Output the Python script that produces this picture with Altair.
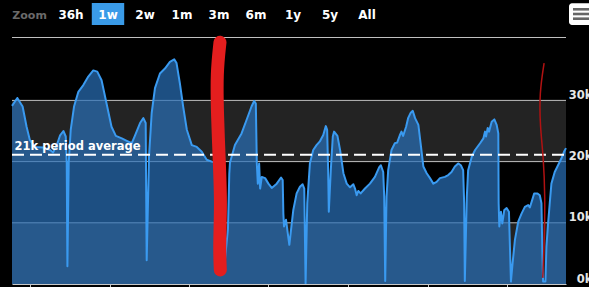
import altair as alt
import pandas as pd

# ---- series (hours from left edge, value in thousands) ----
hours = [0, 1.6, 3.2, 4.4, 5.4, 6.9, 9.4, 11.5, 12.4, 13.5, 14.5, 15.5, 16.2, 16.5, 16.7, 17.1,
         17.7, 18.7, 20.0, 21.5, 23.0, 24.5, 25.7, 27.0, 28.5, 30.0, 31.3, 33.1, 34.6, 36.1,
         37.1, 38.6, 39.6, 40.3, 40.6, 41.3, 42.1, 43.1, 44.6, 46.1, 47.6, 48.9, 49.6, 50.6,
         51.6, 52.7, 54.2, 55.7, 57.2, 58.7, 60.2, 61.4, 62.3, 63.3, 64.2, 65.1, 65.5, 65.7,
         67.2, 69.2, 70.7, 72.2, 73.0, 73.5, 73.8, 74.1, 74.5, 74.8, 75.3, 76.3, 77.3, 78.3,
         79.8, 81.1, 81.6, 81.8, 82.0, 82.6, 83.0, 83.6, 84.0, 84.8, 85.8, 86.8, 87.6, 88.1,
         88.5, 89.0, 89.8, 90.8, 91.8, 92.8, 93.3, 93.8, 94.6, 95.0, 95.3, 95.5, 96.1, 96.7,
         97.1, 98.1, 98.9, 99.9, 100.9, 101.9, 102.9, 103.4, 103.9, 104.4, 105.1, 106.4,
         107.9, 109.4, 110.7, 111.2, 111.9, 112.2, 112.5, 112.9, 113.4, 114.4, 115.4, 116.1,
         116.9, 117.4, 117.9, 118.8, 119.4, 120.2, 120.8, 121.5, 122.5, 123.3, 124.0, 125.0,
         126.0, 127.0, 128.0, 129.0, 130.5, 131.5, 132.5, 133.5, 134.5, 135.3, 136.0, 136.3,
         136.5, 137.1, 137.5, 138.6, 139.6, 141.1, 142.1, 142.6, 142.9, 143.4, 143.8, 144.6,
         145.4, 146.1, 146.6, 146.7, 146.9, 147.4, 147.8, 148.4, 149.1, 149.8, 150.1, 150.4,
         150.9, 151.6, 152.6, 153.6, 154.6, 155.6, 156.1, 156.8, 157.4, 158.4, 159.1, 159.6,
         159.9, 160.1, 160.8, 161.1, 161.6, 162.1, 162.6, 163.6, 164.6, 165.6, 166.4, 167.0]
values = [29.1, 30.4, 29.0, 25.7, 23.5, 22.4, 22.3, 21.9, 21.5, 22.7, 24.3, 25.0, 24.1, 19.8, 2.9, 19.8,
          25.2, 29.0, 31.4, 32.5, 33.9, 34.9, 34.7, 33.3, 29.5, 25.7, 24.2, 23.8, 23.4, 23.0,
          24.3, 26.3, 27.1, 26.3, 3.9, 20.8, 27.9, 32.0, 34.4, 35.2, 36.3, 36.7, 36.1, 32.8,
          29.0, 25.2, 22.7, 22.4, 21.6, 20.3, 20.0, 19.8, 14.0, 6.0, 4.0, 9.0, 18.0, 19.8,
          22.7, 24.6, 26.8, 29.0, 29.9, 29.5, 19.7, 16.4, 19.7, 15.6, 17.5, 17.3, 16.4, 15.7,
          16.4, 17.4, 17.0, 11.5, 9.4, 10.5, 8.8, 6.4, 8.3, 12.1, 14.8, 15.9, 16.3, 15.6,
          0.1, 13.2, 19.7, 21.9, 22.7, 23.3, 23.8, 24.3, 25.8, 25.2, 18.6, 11.8, 18.6, 24.1,
          24.9, 24.2, 21.9, 18.1, 16.4, 15.8, 16.3, 15.6, 14.5, 15.2, 14.8, 15.6,
          16.4, 17.5, 19.1, 19.4, 18.3, 14.3, 0.5, 14.3, 18.6, 21.9, 23.0, 23.1,
          24.3, 24.9, 24.2, 25.7, 27.1, 28.0, 28.3, 27.1, 26.0, 22.4, 19.2, 18.1,
          17.3, 16.4, 16.7, 17.3, 17.5, 17.8, 18.3, 19.2, 19.7, 19.4, 18.6, 13.2,
          0.5, 14.3, 18.6, 20.8, 21.9, 23.0, 23.8, 24.9, 24.1, 25.5, 24.9, 26.5,
          26.9, 26.0, 24.6, 13.2, 9.4, 11.8, 9.9, 12.1, 12.4, 11.8, 6.1, 0.4,
          3.4, 7.2, 10.2, 11.5, 12.6, 12.9, 12.5, 13.7, 14.8, 14.8, 14.5, 13.2,
          4.5, 0.4, 0.4, 6.1, 9.9, 13.2, 16.4, 18.3, 19.4, 20.5, 21.6, 22.2]

avg_value = 21.1
avg_label = "21k period average"
band_lo = [0, 20]
band_hi = [10, 30]
grid_values = [10, 20, 30]
y_label_values = [0, 10, 20, 30]
tick_hours = [5.4, 29.4, 53.4, 77.3, 101.3, 125.3, 149.2]

buttons = ["36h", "1w", "2w", "1m", "3m", "6m", "1y", "5y", "All"]
selected_button = "1w"

# hand-drawn annotations (in data space)
thick_h = [62.7, 61.7, 61.9, 62.5, 63.0, 62.5, 62.8]
thick_v = [39.5, 34.5, 27.9, 19.8, 13.2, 6.0, 2.3]
thin_h = [160.4, 159.0, 159.2, 160.2, 160.7, 160.5, 160.0]
thin_v = [36.1, 31.2, 25.7, 20.8, 14.2, 7.7, 1.0]

W, H = 554, 247
FONT = "DejaVu Sans"

xs = alt.Scale(domain=[0, 167], nice=False, zero=False)
ys = alt.Scale(domain=[0, 40.36], nice=False, zero=False)

X_AXIS = alt.Axis(values=tick_hours, labels=False, grid=False, domainColor="#c8c8c8",
                  tickColor="#c8c8c8", tickSize=6, zindex=1, title=None)
Y_AXIS = alt.Axis(orient="right", values=y_label_values, labelExpr="datum.value + 'k'",
                  grid=False, domain=False, ticks=False, labelAlign="right",
                  labelPadding=26, labelBaseline="alphabetic", labelOffset=-2,
                  labelFont=FONT, labelFontWeight="bold", labelFontSize=11.5,
                  labelColor="#e6e6e6", labelOverlap=False, title=None)

series = pd.DataFrame({"h": hours, "v": values})
bands = pd.DataFrame({"lo": band_lo, "hi": band_hi})
grid = pd.DataFrame({"g": grid_values})
one = pd.DataFrame({"a": [0]})
avg_df = pd.DataFrame({"v": [avg_value], "t": [avg_label]})


def X(f):
    return alt.X(f, scale=xs, axis=X_AXIS)


def Y(f):
    return alt.Y(f, scale=ys, axis=Y_AXIS)


band_layer = alt.Chart(bands).mark_rect(color="#232323").encode(
    x=alt.value(0), x2=alt.value(W), y=Y("lo:Q"), y2="hi:Q")

grid_layer = alt.Chart(grid).mark_rule(color="#c0c0c0", strokeWidth=1).encode(
    x=alt.value(0), x2=alt.value(W), y=Y("g:Q"))

top_line = alt.Chart(one).mark_rule(color="#c0c0c0", strokeWidth=1).encode(
    x=alt.value(0), x2=alt.value(W), y=alt.value(0.5))

area = alt.Chart(series).mark_area(color="#2a71b9", opacity=0.7).encode(x=X("h:Q"), y=Y("v:Q"))

line = alt.Chart(series).mark_line(color="#3a9af0", strokeWidth=2, strokeJoin="round").encode(
    x=X("h:Q"), y=Y("v:Q"))

avg_rule = alt.Chart(avg_df).mark_rule(color="white", strokeWidth=2, strokeDash=[12, 6]).encode(
    x=alt.value(0), x2=alt.value(W), y=Y("v:Q"))

avg_text = alt.Chart(avg_df).mark_text(align="left", baseline="alphabetic", dy=-5, font=FONT,
                                       fontSize=11.5, fontWeight="bold", color="white").encode(
    x=alt.value(2.5), y=Y("v:Q"), text="t:N")

thick = alt.Chart(pd.DataFrame({"h": thick_h, "v": thick_v, "i": range(len(thick_h))})).mark_line(
    color="#e41e1e", strokeWidth=13, strokeCap="round", strokeJoin="round", interpolate="basis").encode(
    x=X("h:Q"), y=Y("v:Q"), order="i:Q")

thin = alt.Chart(pd.DataFrame({"h": thin_h, "v": thin_v, "i": range(len(thin_h))})).mark_line(
    color="#b01212", strokeWidth=1.5, interpolate="basis").encode(
    x=X("h:Q"), y=Y("v:Q"), order="i:Q")

# ---- range selector buttons (above plot, pixel layout) ----
sel_idx = buttons.index(selected_button)
sel_px = 59 + 37 * sel_idx

layers = [band_layer, grid_layer, top_line, area, line, avg_rule, avg_text, thin, thick]

layers.append(alt.Chart(one).mark_rect(color="#3a9be8").encode(
    x=alt.value(sel_px - 16.2), x2=alt.value(sel_px + 16.2), y=alt.value(-34), y2=alt.value(-12)))

for i, lab in enumerate(buttons):
    layers.append(alt.Chart(one).mark_text(align="center", baseline="alphabetic", font=FONT,
                                           fontSize=12, fontWeight="bold", color="white",
                                           text=lab).encode(
        x=alt.value(59 + 37 * i), y=alt.value(-18.5)))

layers.append(alt.Chart(one).mark_text(align="left", baseline="alphabetic", font=FONT, fontSize=11,
                                       fontWeight="bold", color="#6a6a6a", text="Zoom").encode(
    x=alt.value(0.3), y=alt.value(-18.5)))

layers.append(alt.Chart(one).mark_rect(color="white", cornerRadius=3).encode(
    x=alt.value(557), x2=alt.value(582), y=alt.value(-33.7), y2=alt.value(-12)))

for yy in [-27.7, -23.0, -18.3]:
    layers.append(alt.Chart(one).mark_rule(color="#666666", strokeWidth=2.6).encode(
        x=alt.value(561), x2=alt.value(580), y=alt.value(yy)))

chart = alt.layer(*layers).properties(
    width=W, height=H,
    autosize=alt.AutoSizeParams(type="none"),
    padding={"left": 12, "top": 37, "right": 23, "bottom": 3},
    background="black",
).configure_view(stroke=None)

chart.save("out.html", embed_options={"renderer": "svg", "actions": False})
